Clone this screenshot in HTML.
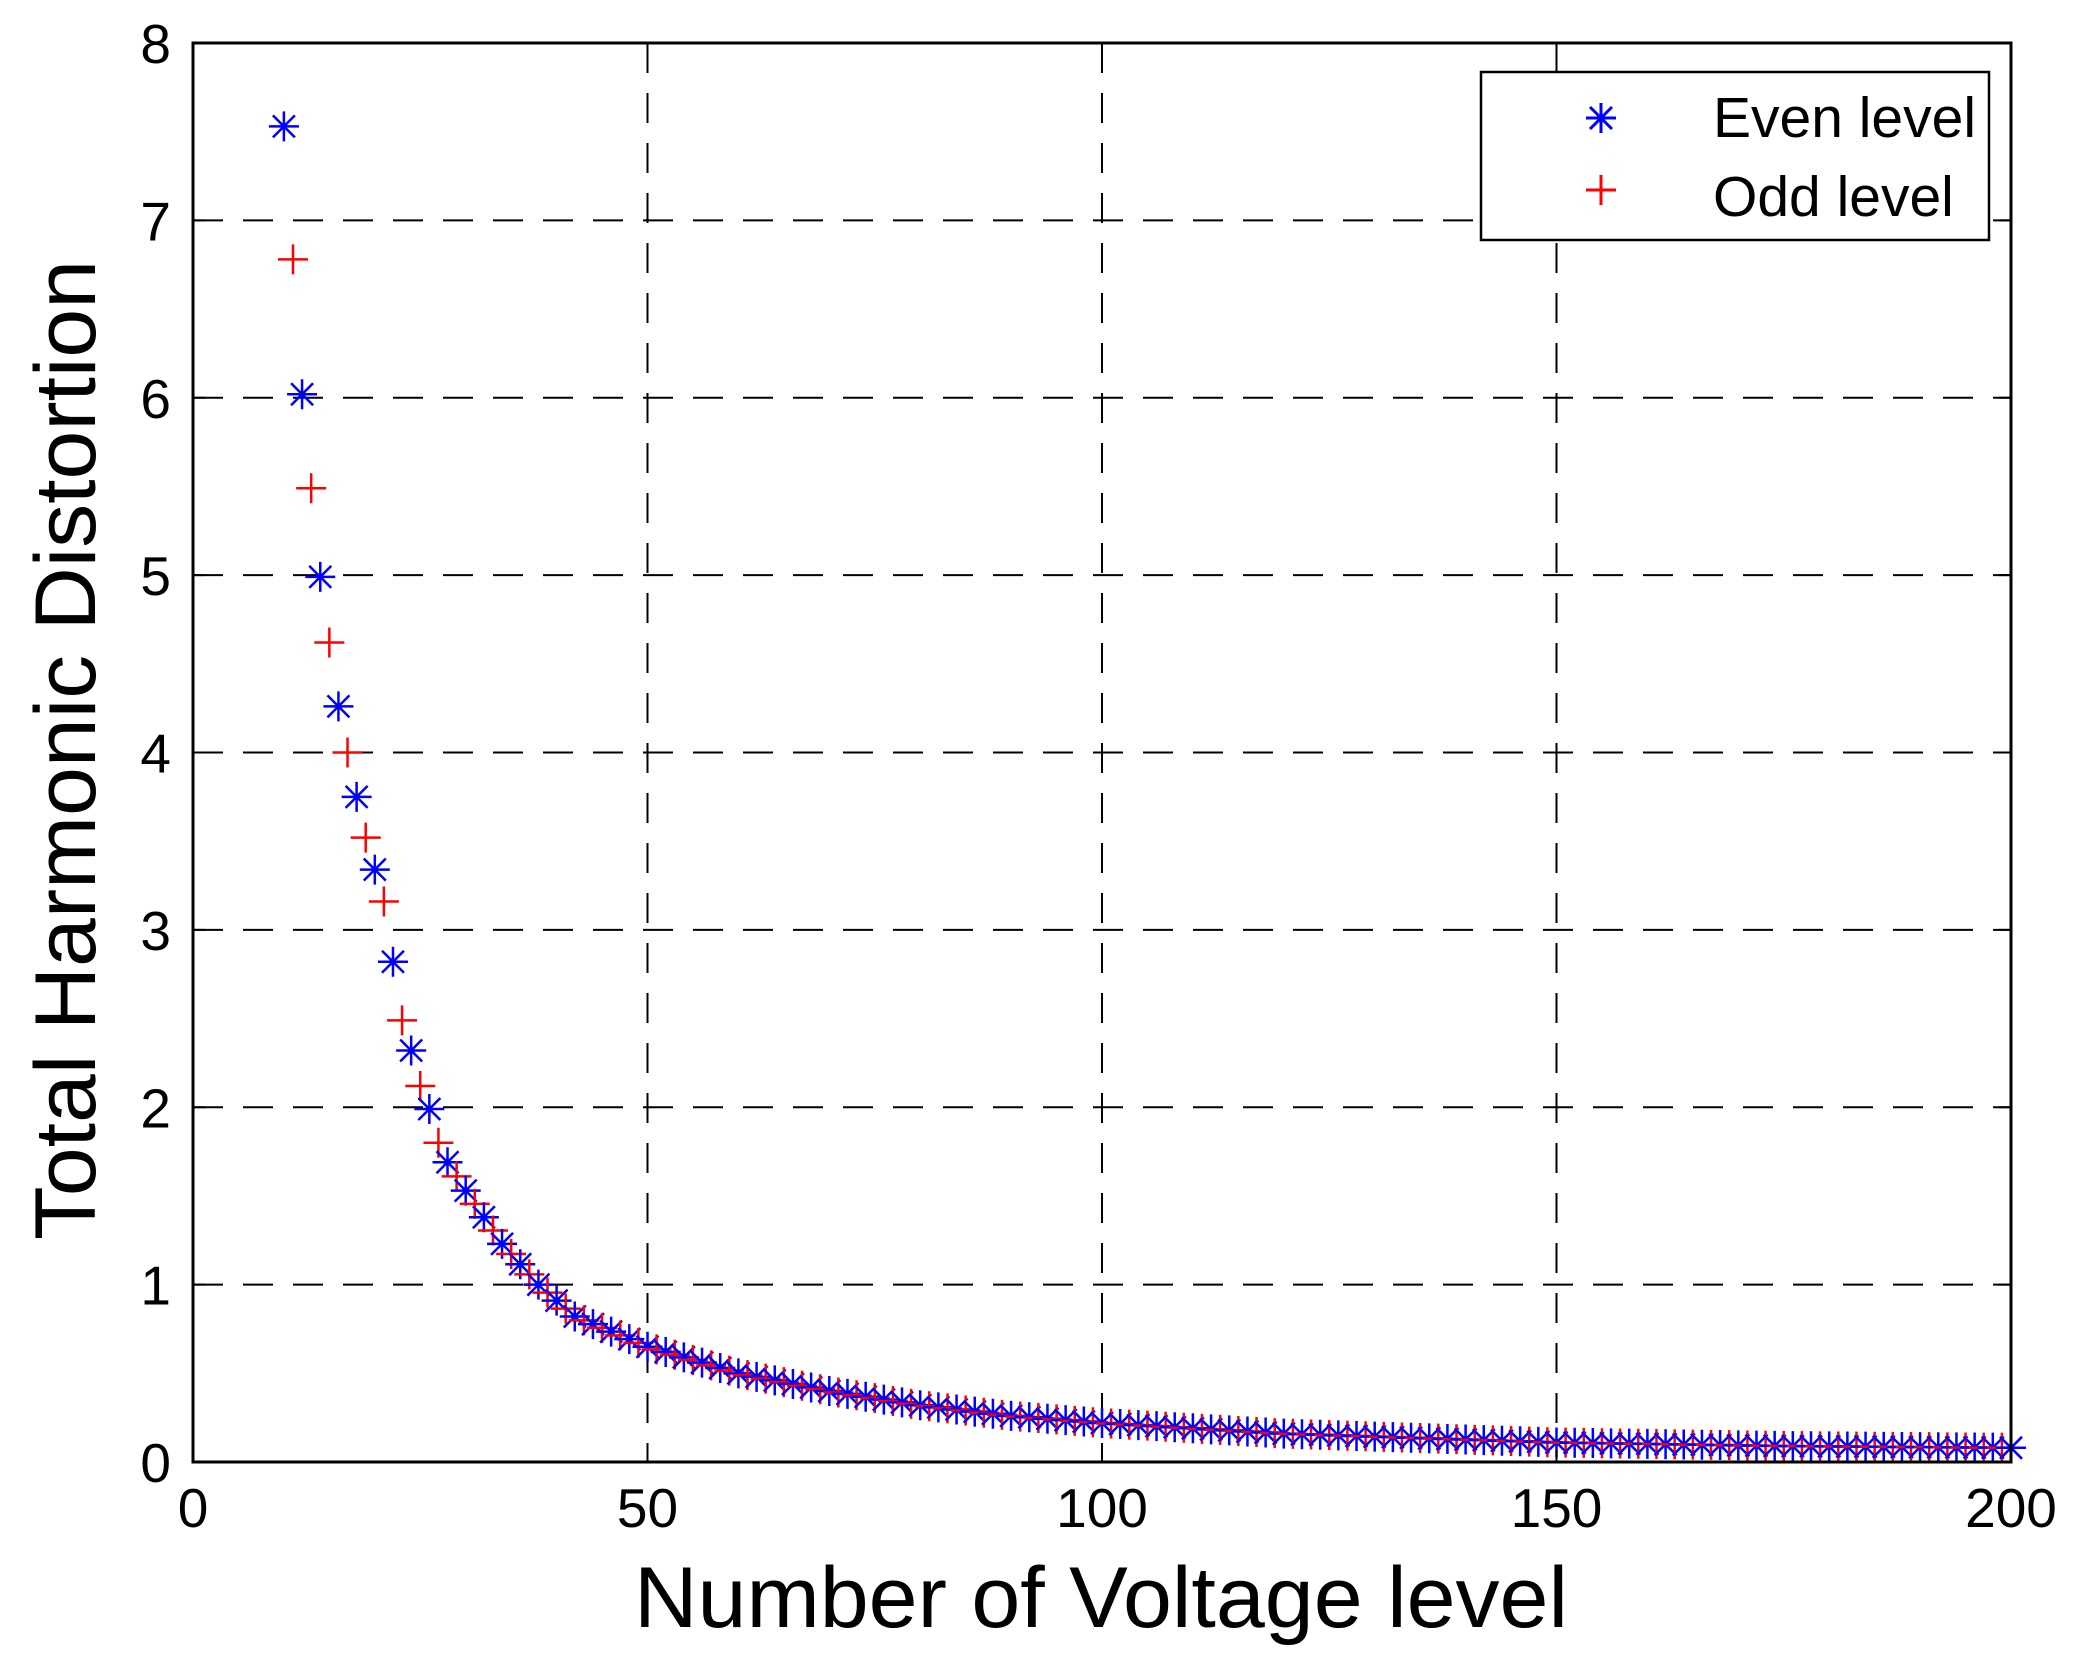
<!DOCTYPE html>
<html><head><meta charset="utf-8"><style>html,body{margin:0;padding:0;background:#fff}svg{display:block}</style></head>
<body>
<svg id="s" width="2091" height="1669" viewBox="0 0 2091 1669" xmlns="http://www.w3.org/2000/svg" font-family="Liberation Sans, Arial, sans-serif">
<rect width="2091" height="1669" fill="#fff"/>
<g id="grid" stroke="#000" stroke-width="2" stroke-dasharray="30,20"></g>
<g id="data"></g>
<rect x="193" y="43" width="1818" height="1419" fill="none" stroke="#000" stroke-width="3"/>
<g id="ticks" font-size="55" fill="#000"></g>
<text x="1101" y="1627" font-size="86" text-anchor="middle" textLength="934" lengthAdjust="spacingAndGlyphs">Number of Voltage level</text>
<text transform="translate(95,750) rotate(-90)" font-size="86" text-anchor="middle" textLength="980" lengthAdjust="spacingAndGlyphs">Total Harmonic Distortion</text>
<rect x="1481" y="72" width="508" height="168" fill="#fff" stroke="#000" stroke-width="2.5"/>
<g stroke="#0000ff" stroke-width="3"><line x1="1586" y1="118" x2="1616" y2="118"/><line x1="1601" y1="103" x2="1601" y2="133"/><line x1="1590" y1="107" x2="1612" y2="129"/><line x1="1590" y1="129" x2="1612" y2="107"/></g>
<g stroke="#ff0000" stroke-width="3"><line x1="1586" y1="190" x2="1616" y2="190"/><line x1="1601" y1="175" x2="1601" y2="205"/></g>
<text x="1713" y="137" font-size="57">Even level</text>
<text x="1713" y="216" font-size="57">Odd level</text>
</svg>
<script>
var L=193,R=2011,T=43,B=1462;
function X(v){return L+(R-L)*v/200}function Y(v){return B-(B-T)*v/8}
var NS="http://www.w3.org/2000/svg";
function el(p,n,a){var e=document.createElementNS(NS,n);for(var k in a)e.setAttribute(k,a[k]);p.appendChild(e);return e}
var g=document.getElementById('grid'),t=document.getElementById('ticks'),d=document.getElementById('data');
for(var i=1;i<8;i++)el(g,'line',{x1:L,x2:R,y1:Y(i),y2:Y(i)});
[50,100,150].forEach(function(v){el(g,'line',{x1:X(v),x2:X(v),y1:T,y2:B})});
for(var i=0;i<=8;i++){el(t,'line',{x1:L,x2:L+12,y1:Y(i),y2:Y(i),stroke:'#000','stroke-width':2});el(t,'line',{x1:R,x2:R-12,y1:Y(i),y2:Y(i),stroke:'#000','stroke-width':2});var e=el(t,'text',{x:171,y:Y(i)+20,'text-anchor':'end'});e.textContent=i}
[0,50,100,150,200].forEach(function(v){el(t,'line',{x1:X(v),x2:X(v),y1:B,y2:B-12,stroke:'#000','stroke-width':2});el(t,'line',{x1:X(v),x2:X(v),y1:T,y2:T+12,stroke:'#000','stroke-width':2});var e=el(t,'text',{x:X(v),y:1527,'text-anchor':'middle'});e.textContent=v});
var P=[[10,7.53],[11,6.78],[12,6.02],[13,5.49],[14,4.99],[15,4.62],[16,4.26],[17,4.0],[18,3.75],[19,3.52],[20,3.34],[21,3.16],[22,2.82],[23,2.49],[24,2.32],[25,2.12],[26,1.99],[27,1.80],[28,1.69],[30,1.53],[34,1.23],[38,1.0],[42,0.82],[50,0.65],[60,0.5],[70,0.4],[80,0.32],[90,0.26],[100,0.22],[120,0.16],[150,0.11],[175,0.09],[200,0.08]];
function f(x){for(var i=0;i<P.length-1;i++){if(x<=P[i+1][0]){var a=P[i],b=P[i+1];return a[1]+(b[1]-a[1])*(x-a[0])/(b[0]-a[0])}}return 0.08}
var s=15;
for(var n=10;n<=200;n++){var cx=X(n),cy=Y(f(n));
 if(n%2==0){var c='#0000ff';el(d,'path',{d:'M'+(cx-s)+' '+cy+'H'+(cx+s)+'M'+cx+' '+(cy-s)+'V'+(cy+s)+'M'+(cx-11)+' '+(cy-11)+'L'+(cx+11)+' '+(cy+11)+'M'+(cx-11)+' '+(cy+11)+'L'+(cx+11)+' '+(cy-11),stroke:c,'stroke-width':2.5,fill:'none'})}
 else{el(d,'path',{d:'M'+(cx-s)+' '+cy+'H'+(cx+s)+'M'+cx+' '+(cy-s)+'V'+(cy+s),stroke:'#ff0000','stroke-width':2.5,fill:'none'})}}
</script>
</body></html>
